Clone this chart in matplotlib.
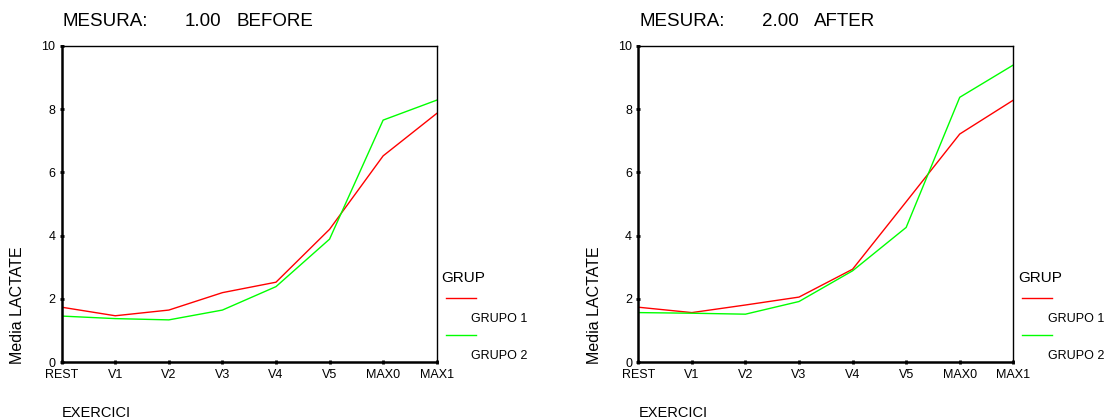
import matplotlib
matplotlib.use("Agg")
import matplotlib.pyplot as plt
from matplotlib.lines import Line2D

plt.rcParams['font.family'] = ['Liberation Sans', 'DejaVu Sans']

categories = ["REST", "V1", "V2", "V3", "V4", "V5", "MAX0", "MAX1"]
before_grupo1 = [1.74, 1.47, 1.65, 2.20, 2.53, 4.20, 6.52, 7.86]
before_grupo2 = [1.46, 1.38, 1.34, 1.65, 2.39, 3.89, 7.65, 8.28]
after_grupo1 = [1.74, 1.57, 1.81, 2.06, 2.94, 5.07, 7.21, 8.28]
after_grupo2 = [1.57, 1.55, 1.52, 1.92, 2.89, 4.26, 8.37, 9.39]
yticks = [0, 2, 4, 6, 8, 10]
group_names = ["GRUPO 1", "GRUPO 2"]
colors = ["#ff0000", "#00ff00"]
panels = [("1.00", "BEFORE", before_grupo1, before_grupo2),
          ("2.00", "AFTER", after_grupo1, after_grupo2)]

W, H = 1104, 420
fig = plt.figure(figsize=(W / 100, H / 100), dpi=100)

def fx(px):
    return px / W

def fy(py):
    return 1 - py / H

x_offsets = [0, 576.6]
for (num, label, g1, g2), off in zip(panels, x_offsets):
    left = 61.7 + off
    ax = fig.add_axes([fx(left), fy(362.3), fx(375), (362.3 - 45.7) / H])
    xs = list(range(len(categories)))
    ax.plot(xs, g1, color=colors[0], lw=1.0)
    ax.plot(xs, g2, color=colors[1], lw=1.0)
    ax.set_xlim(0, len(categories) - 1)
    ax.set_ylim(0, 10)
    ax.set_xticks(xs)
    ax.set_xticklabels(categories, fontsize=9)
    ax.set_yticks(yticks)
    ax.set_yticklabels([str(t) for t in yticks], fontsize=9)
    ax.tick_params(axis='both', direction='inout', length=3, width=2, color='black')
    ax.tick_params(axis='x', pad=3)
    ax.tick_params(axis='y', pad=3)
    for s in ['left', 'bottom']:
        ax.spines[s].set_linewidth(1.8)
    for s in ['top', 'right']:
        ax.spines[s].set_linewidth(1.0)

    # titles
    fig.text(fx(63 + off), fy(21), "MESURA:", fontsize=13.5, va='center', ha='left')
    fig.text(fx(185 + off), fy(21), num, fontsize=13.5, va='center', ha='left')
    fig.text(fx(237 + off), fy(21), label, fontsize=13.5, va='center', ha='left')

    # axis labels
    fig.text(fx(18 + off), fy(305), "Media LACTATE", fontsize=11.5, rotation=90,
             va='center', ha='center')
    fig.text(fx(62 + off), fy(413), "EXERCICI", fontsize=10.5, va='center', ha='left')

    # legend
    fig.text(fx(441.5 + off), fy(278), "GRUP", fontsize=11, va='center', ha='left')
    for i, (name, c) in enumerate(zip(group_names, colors)):
        ly = 298 + 37 * i
        fig.add_artist(Line2D([fx(445.5 + off), fx(475.5 + off)], [fy(ly), fy(ly)],
                              color=c, lw=1.0, transform=fig.transFigure))
        fig.text(fx(471 + off), fy(ly + 21), name, fontsize=9, va='center', ha='left')

fig.savefig("out.png", dpi=100)
